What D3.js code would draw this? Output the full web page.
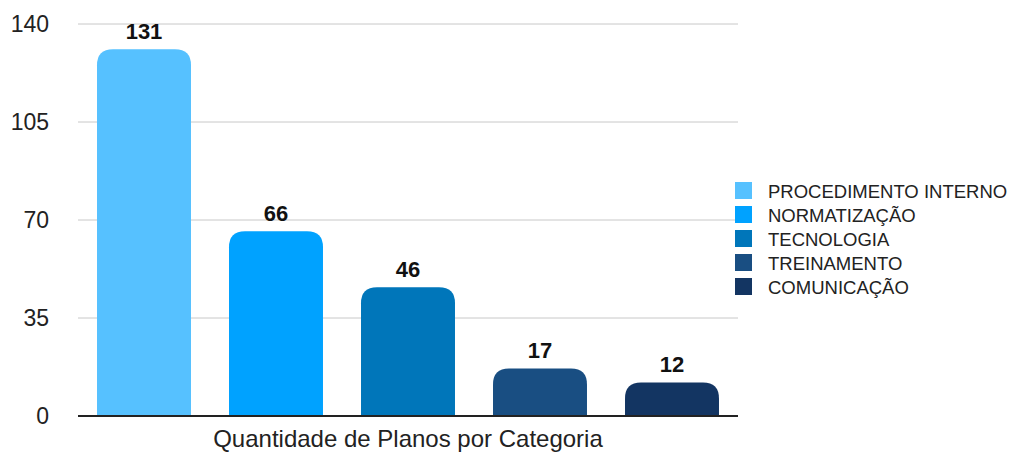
<!DOCTYPE html>
<html>
<head>
<meta charset="utf-8">
<script src="https://cdn.jsdelivr.net/npm/d3@7"></script>
<style>
  body { margin: 0; background: #fff; }
  svg { font-family: "Liberation Sans", Arial, Helvetica, sans-serif; }
</style>
</head>
<body>
<svg id="chart" width="1012" height="453"></svg>
<script>
// data
var categories = ["PROCEDIMENTO INTERNO", "NORMATIZAÇÃO", "TECNOLOGIA", "TREINAMENTO", "COMUNICAÇÃO"];
var values = [131, 66, 46, 17, 12];
var colors = ["#56C1FF", "#00A2FF", "#0076BA", "#194E82", "#133562"];
var yTicks = [0, 35, 70, 105, 140];
var xTitle = "Quantidade de Planos por Categoria";

var margin = {top: 24, left: 78, right: 274, bottom: 37},
    width = 1012 - margin.left - margin.right,
    height = 453 - margin.top - margin.bottom;

var svg = d3.select("#chart");
var g = svg.append("g")
    .attr("transform", "translate(" + margin.left + "," + margin.top + ")");

// scales
var x = d3.scaleBand().domain(categories).range([0, width])
    .paddingInner(0.288).paddingOuter(0.144);
var y = d3.scaleLinear().domain([0, 140]).range([height, 0]);
var color = d3.scaleOrdinal().domain(categories).range(colors);

// gridlines
g.selectAll(".grid")
  .data(yTicks.filter(function(d) { return d > 0; }))
  .enter().append("line")
    .attr("x1", 0).attr("x2", width)
    .attr("y1", function(d) { return y(d); })
    .attr("y2", function(d) { return y(d); })
    .attr("stroke", "#c8c8c8").attr("stroke-width", 1);

// y tick labels
g.selectAll(".ytick")
  .data(yTicks)
  .enter().append("text")
    .attr("x", -29)
    .attr("y", function(d) { return y(d); })
    .attr("dy", "0.36em")
    .attr("text-anchor", "end")
    .attr("font-size", 23)
    .attr("fill", "#222")
    .text(function(d) { return d; });

// bars with rounded tops
function barPath(d, i) {
  var x0 = x(categories[i]), w = x.bandwidth(),
      y0 = y(d), y1 = y(0),
      r = Math.min(16, (y1 - y0));
  return "M" + x0 + "," + y1 +
    "V" + (y0 + r) +
    "Q" + x0 + "," + y0 + " " + (x0 + r) + "," + y0 +
    "H" + (x0 + w - r) +
    "Q" + (x0 + w) + "," + y0 + " " + (x0 + w) + "," + (y0 + r) +
    "V" + y1 + "Z";
}

g.selectAll(".bar")
  .data(values)
  .enter().append("path")
    .attr("d", barPath)
    .attr("fill", function(d, i) { return color(categories[i]); });

// value labels
g.selectAll(".val")
  .data(values)
  .enter().append("text")
    .attr("x", function(d, i) { return x(categories[i]) + x.bandwidth() / 2; })
    .attr("y", function(d) { return y(d) - 10; })
    .attr("text-anchor", "middle")
    .attr("font-size", 22)
    .attr("font-weight", "bold")
    .attr("fill", "#111")
    .text(function(d) { return d; });

// baseline
g.append("line")
    .attr("x1", 0).attr("x2", width)
    .attr("y1", y(0)).attr("y2", y(0))
    .attr("stroke", "#222").attr("stroke-width", 2);

// x title
g.append("text")
    .attr("x", width / 2)
    .attr("y", height + 31)
    .attr("text-anchor", "middle")
    .attr("font-size", 24)
    .attr("fill", "#222")
    .text(xTitle);

// legend
var legend = svg.append("g").attr("transform", "translate(735,182)");
var item = legend.selectAll(".item")
  .data(categories)
  .enter().append("g")
    .attr("transform", function(d, i) { return "translate(0," + (i * 24) + ")"; });
item.append("rect")
    .attr("width", 17).attr("height", 17)
    .attr("fill", function(d) { return color(d); });
item.append("text")
    .attr("x", 33).attr("y", 9)
    .attr("dy", "0.36em")
    .attr("font-size", 18.5)
    .attr("fill", "#222")
    .text(function(d) { return d; });
</script>
</body>
</html>
